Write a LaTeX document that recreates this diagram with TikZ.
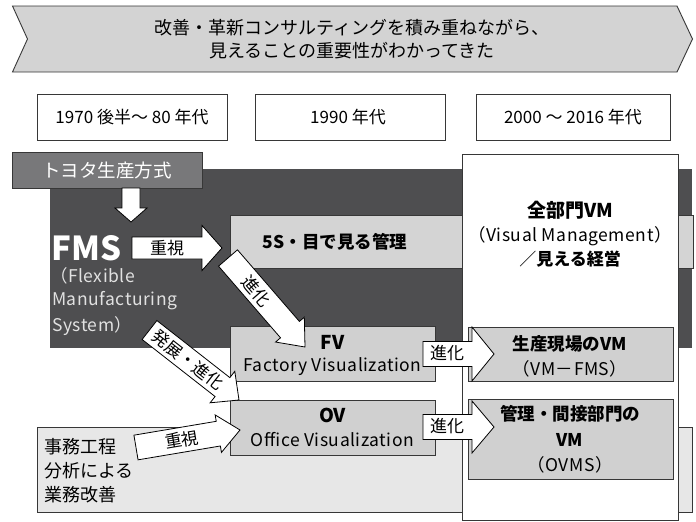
\documentclass[tikz,border=0pt]{standalone}
\usepackage{fontspec}
\setmainfont{Noto Sans CJK JP}
\usetikzlibrary{calc}
\definecolor{bannerfill}{RGB}{211,211,211}
\definecolor{darkbg}{RGB}{78,78,80}
\definecolor{toyotafill}{RGB}{120,120,122}
\definecolor{stripfill}{RGB}{212,212,212}
\definecolor{boxfill}{RGB}{208,208,208}
\definecolor{officefill}{RGB}{231,231,231}
\definecolor{linecol}{RGB}{55,55,55}
\definecolor{lighttext}{RGB}{225,225,225}
\tikzset{
  t17/.style={font=\fontsize{17}{25}\selectfont},
  t18/.style={font=\fontsize{18}{25}\selectfont},
  b17/.style={font=\fontsize{17.5}{25}\selectfont\bfseries},
  lat/.style={font=\fontsize{17.5}{25}\selectfont\addfontfeature{LetterSpace=3}},
  framebox/.style={draw=linecol, line width=0.8pt},
  barrowst/.style={draw=black, fill=white, line width=0.8pt, line join=miter},
}
\newcommand\blockarr[5]{%
  \coordinate (ba-h) at ($(#2)!#5!(#1)$);
  \draw[barrowst] ($(#1)!#3!90:(#2)$) -- ($(ba-h)!#3!-90:(#1)$) -- ($(ba-h)!#4!-90:(#1)$)
    -- (#2) -- ($(ba-h)!#4!90:(#1)$) -- ($(ba-h)!#3!90:(#1)$) -- ($(#1)!#3!-90:(#2)$) -- cycle;
}
\begin{document}
\begin{tikzpicture}[x=1pt,y=-1pt]
\useasboundingbox (0,0) rectangle (696,522);
\fill[white] (0,0) rectangle (696,522);

% banner
\draw[fill=bannerfill, draw=linecol, line width=0.9pt, line join=miter]
  (12.5,6) -- (677,6) -- (692.5,39) -- (677,72) -- (12.5,72) -- (27.5,39) -- cycle;
\node[t18] (bt1) at (352,28) {改善・革新コンサルティングを積み重ねながら、};
\node[t18] (bt2) at (352,51) {見えることの重要性がわかってきた};

% period boxes
\draw[framebox, fill=white] (37,94) rectangle (227,140);
\node[t17] (p1) at (132,117) {1970 後半～ 80 年代};
\draw[framebox, fill=white] (255,94) rectangle (445,140);
\node[t17] (p2) at (348,117) {1990 年代};
\draw[framebox, fill=white] (476,94) rectangle (670,140);
\node[t17] (p3) at (573,117) {2000 ～ 2016 年代};

% big backgrounds
\fill[darkbg] (50,169) rectangle (692,348);
\draw[framebox, fill=officefill] (37,427) rectangle (692,512);
\draw[framebox, fill=toyotafill] (12,152) rectangle (202,188);
\node[font=\fontsize{18.5}{25}\selectfont, text=white] (toyota) at (107,170) {トヨタ生産方式};

\draw[draw=linecol, line width=0.5pt, fill=stripfill] (230,215) rectangle (693,268);
\node[b17] (s5) at (335,242) {5S・目で見る管理};

% white column
\draw[framebox, fill=white] (462,154) rectangle (678,520);
\node[font=\fontsize{19}{25}\selectfont\bfseries] (vm) at (570,210) {全部門VM};
\node[lat] (vm2) at (570,236) {（Visual Management）};
\node[t17] (vm3) at (570,259) {／\textbf{見える経営}};

% FMS text
\node[font=\fontsize{33}{36}\selectfont\bfseries, text=white, anchor=west, inner sep=0pt] (fms) at (51,248) {FMS};
\node[lat, text=lighttext, anchor=west, inner sep=0pt] (fms1) at (50,276) {（Flexible};
\node[lat, text=lighttext, anchor=west, inner sep=0pt] (fms2) at (52,301) {Manufacturing};
\node[lat, text=lighttext, anchor=west, inner sep=0pt] (fms3) at (52,326) {System）};

% FV / OV
\draw[framebox, fill=boxfill] (230,326) rectangle (435,381);
\node[font=\fontsize{19}{25}\selectfont\bfseries] (fv) at (332.5,342) {FV};
\node[lat] (fv2) at (332.5,367) {Factory Visualization};
\draw[framebox, fill=boxfill] (230,400) rectangle (435,455);
\node[font=\fontsize{19}{25}\selectfont\bfseries] (ov) at (332.5,415) {OV};
\node[lat] (ov2) at (332.5,440) {Office Visualization};

% VM boxes
\draw[framebox, fill=boxfill] (468,327) rectangle (673,381);
\node[b17] (g1) at (570,344) {生産現場のVM};
\node[lat] (g2) at (570,369) {（VM－FMS）};
\draw[framebox, fill=boxfill] (468,399) rectangle (673,479);
\node[b17] (k1) at (570,414) {管理・間接部門の};
\node[b17] (k2) at (570,440) {VM};
\node[lat] (k3) at (570,465) {（OVMS）};

% office text
\node[t18, anchor=west, inner sep=0pt] (of1) at (44,447) {事務工程};
\node[t18, anchor=west, inner sep=0pt] (of2) at (44,471) {分析による};
\node[t18, anchor=west, inner sep=0pt] (of3) at (44,495) {業務改善};

% arrows
\coordinate (a1s) at (131,188);  \coordinate (a1e) at (131,222);
\blockarr{a1s}{a1e}{9pt}{16pt}{14pt}

\coordinate (a2s) at (132,248);  \coordinate (a2e) at (222,248);
\blockarr{a2s}{a2e}{11pt}{22.5pt}{20pt}
\node[t17, inner sep=0pt] (a2t) at (167,248) {重視};

\coordinate (a3s) at (228,258);  \coordinate (a3e) at (305,347);
\blockarr{a3s}{a3e}{12.5pt}{19pt}{23pt}
\node[t17, rotate=-49.1, inner sep=0pt] (a3t) at ($(a3s)!0.37!(a3e)$) {進化};

\coordinate (a4s) at (149.5,330);  \coordinate (a4e) at (239,400);
\blockarr{a4s}{a4e}{12pt}{20pt}{21pt}
\node[t17, rotate=-38, inner sep=0pt] (a4t) at ($(a4s)!0.43!(a4e)$) {発展・進化};

\coordinate (a5s) at (136,447.5);  \coordinate (a5e) at (240,430);
\blockarr{a5s}{a5e}{12.5pt}{19pt}{22pt}
\node[t17, rotate=9.5, inner sep=0pt] (a5t) at ($(a5s)!0.44!(a5e)$) {重視};

\coordinate (a6s) at (423,354);  \coordinate (a6e) at (494,354);
\blockarr{a6s}{a6e}{12.5pt}{27pt}{22pt}
\node[t17, inner sep=0pt] (a6t) at (447,353) {進化};

\coordinate (a7s) at (423,427);  \coordinate (a7e) at (494,427);
\blockarr{a7s}{a7e}{12.5pt}{26pt}{22pt}
\node[t17, inner sep=0pt] (a7t) at (447,426) {進化};
\end{tikzpicture}
\end{document}
